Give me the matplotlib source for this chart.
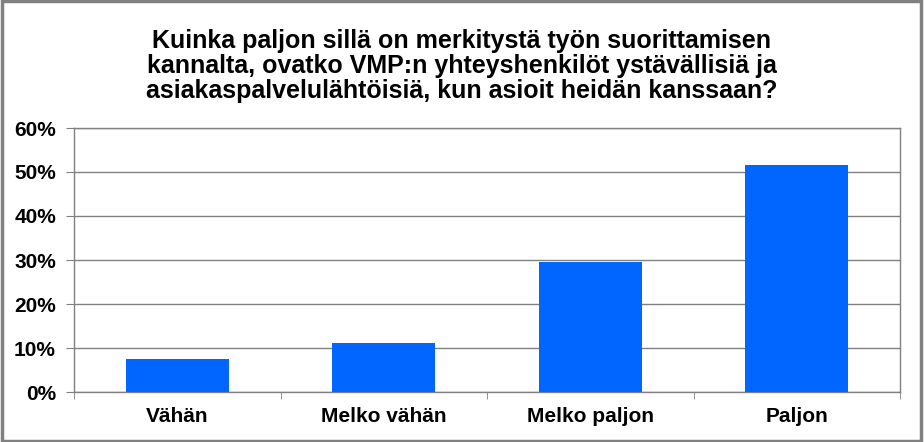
import numpy as np
import matplotlib
matplotlib.use("Agg")
from matplotlib import pyplot as plt
from matplotlib.ticker import PercentFormatter
from matplotlib.patches import Rectangle

categories = ["Vähän", "Melko vähän", "Melko paljon", "Paljon"]
values = [7.6, 11.1, 29.5, 51.6]
title = ("Kuinka paljon sillä on merkitystä työn suorittamisen\n"
         "kannalta, ovatko VMP:n yhteyshenkilöt ystävällisiä ja\n"
         "asiakaspalvelulähtöisiä, kun asioit heidän kanssaan?")

plt.rcParams['font.family'] = ['Liberation Sans', 'DejaVu Sans']

fig = plt.figure(figsize=(9.24, 4.42), dpi=100)
ax = fig.add_axes([74/924, 1-392/442, 826/924, 264/442])

x = np.arange(len(categories))
ax.bar(x, values, width=0.5, color="#0066ff", zorder=3)

ax.set_xlim(-0.5, len(categories)-0.5)
ax.set_ylim(0, 60)
ax.set_yticks(np.arange(0, 61, 10))
ax.yaxis.set_major_formatter(PercentFormatter(decimals=0))
ax.grid(axis="y", color="#808080", linewidth=1, zorder=0)

ax.set_xticks(x)
ax.set_xticklabels(categories, fontsize=15, fontweight="bold")
ax.set_xticks(np.arange(-0.5, len(categories), 1), minor=True)
ax.tick_params(axis="x", which="major", length=0, pad=11)
ax.tick_params(axis="x", which="minor", length=5, color="#808080")
ax.tick_params(axis="y", length=6, color="#808080", labelsize=15, pad=7)
for lab in ax.get_yticklabels():
    lab.set_fontweight("bold")
for s in ax.spines.values():
    s.set_color("#808080")
    s.set_linewidth(1)

fig.text(0.5, 1-66/442, title, ha="center", va="center", fontsize=18,
         fontweight="bold", linespacing=1.07)

fig.patches.append(Rectangle((0.002, 0.003), 0.995, 0.994, transform=fig.transFigure,
                             fill=False, edgecolor="#808080", linewidth=2.5))

fig.savefig("out.png", dpi=100)
